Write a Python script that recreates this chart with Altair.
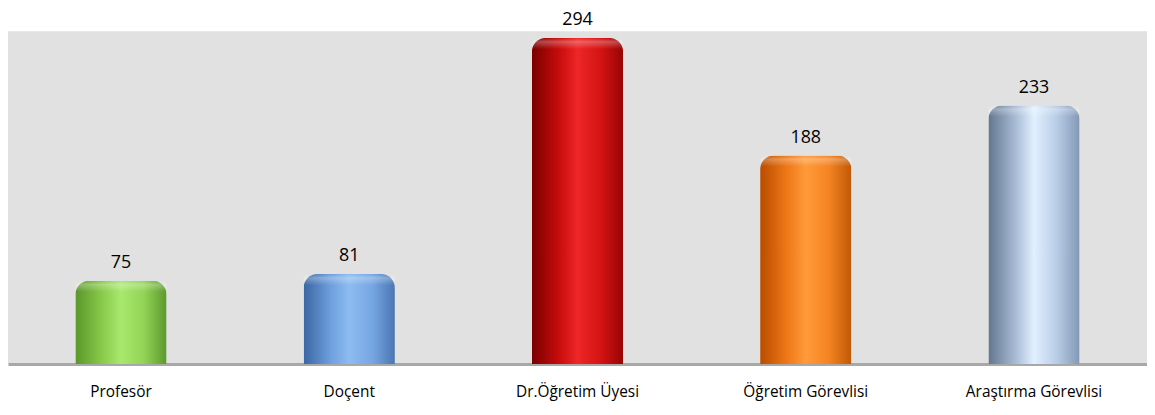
import altair as alt
import pandas as pd

categories = ["Profesör", "Doçent", "Dr.Öğretim Üyesi", "Öğretim Görevlisi", "Araştırma Görevlisi"]
values = [75, 81, 294, 188, 233]

gradients = [
    ["#5a962a", "#8acb4c", "#a8e86e", "#92d456", "#5c982c"],
    ["#3a66a2", "#6f9fde", "#8cbcf0", "#77a7e2", "#4a76b4"],
    ["#7a0000", "#c80c0c", "#ee2626", "#d41414", "#980404"],
    ["#b84c00", "#f07818", "#ff9a3a", "#f58422", "#c05806"],
    ["#62768e", "#a8bcd6", "#e2f0ff", "#b8cce6", "#8298b4"],
]

df = pd.DataFrame({"cat": categories, "val": values})

x = alt.X("cat:N", sort=categories,
          scale=alt.Scale(paddingInner=0.6, paddingOuter=0.295),
          axis=alt.Axis(title=None, labelAngle=0, labelFont="Open Sans", labelFontSize=15.5,
                        labelFontWeight="normal",
                        labelColor="#000000", labelPadding=21, ticks=False,
                        domainColor="#a8a8a8", domainWidth=3))
y = alt.Y("val:Q", scale=alt.Scale(domain=[0, 300], nice=False), axis=None)

layers = []
for cat, stops in zip(categories, gradients):
    offs = [0, 0.3, 0.5, 0.75, 1]
    grad = alt.LinearGradient(
        gradient="linear", x1=0, x2=1, y1=0, y2=0,
        stops=[alt.GradientStop(offset=o, color=c) for o, c in zip(offs, stops)])
    layers.append(
        alt.Chart(df).transform_filter(alt.datum.cat == cat)
        .mark_bar(color=grad, cornerRadiusTopLeft=14, cornerRadiusTopRight=14)
        .encode(x=x, y=y)
    )

hl = alt.LinearGradient(
    gradient="linear", x1=0, x2=0, y1=0, y2=1,
    stops=[alt.GradientStop(offset=0, color="rgba(255,255,255,0.0)"),
           alt.GradientStop(offset=0.35, color="rgba(255,255,255,0.28)"),
           alt.GradientStop(offset=1, color="rgba(255,255,255,0.0)")])
highlight = alt.Chart(df).transform_calculate(top2="datum.val - 10").mark_bar(
    color=hl, cornerRadiusTopLeft=14, cornerRadiusTopRight=14
).encode(x=x, y=y, y2="top2:Q")

text = alt.Chart(df).mark_text(baseline="top", dy=-27, font="Open Sans", fontSize=18,
                               color="#000000").encode(x=x, y=y, text="val:Q")

chart = alt.layer(*layers, highlight, text).properties(
    width=1147, height=335,
    padding={"left": 0, "top": 22, "right": 0, "bottom": 50},
    autosize=alt.AutoSizeParams(type="none"),
    background="#ffffff",
    view=alt.ViewBackground(fill="#e1e1e1", stroke=None),
)

chart.save("out.html", embed_options={"renderer": "svg", "actions": False})
